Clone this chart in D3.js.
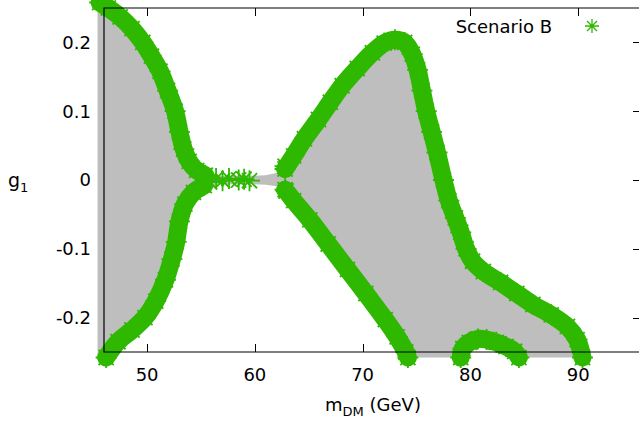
<!DOCTYPE html>
<html><head><meta charset="utf-8">
<script src="https://cdn.jsdelivr.net/npm/d3@7"></script>
<style>body{margin:0;background:#fff} svg{display:block} text{font-family:"DejaVu Sans",sans-serif;fill:#000}</style>
</head><body><svg id="c" width="639" height="426"></svg>
<script>
// ---- data ----
const xTicks = [50, 60, 70, 80, 90];
const xTickLabels = ["50", "60", "70", "80", "90"];
const yTicks = [-0.2, -0.1, 0, 0.1, 0.2];
const yTickLabels = ["-0.2", "-0.1", "0", "0.1", "0.2"];
const seriesName = "Scenario B";

// allowed-region boundary (m_DM [GeV], g1)
const upperLeft = [[45.6,0.258],[46.4,0.25],[47.5,0.237],[48.6,0.22],[49.6,0.2],[50.4,0.18],[51.2,0.158],[51.9,0.13],[52.6,0.1],[53.0,0.07],[53.4,0.045],[53.9,0.027],[54.6,0.014],[55.4,0.007]];
const lowerLeft = [[46.2,-0.258],[47.3,-0.235],[48.6,-0.218],[49.8,-0.2],[50.8,-0.176],[51.7,-0.145],[52.3,-0.115],[52.7,-0.09],[53.0,-0.06],[53.5,-0.035],[54.3,-0.018],[55.3,-0.008]];
const neckTop = [[56.5,0.006],[58.0,0.006],[59.5,0.006],[61.0,0.007],[62.0,0.01]];
const neckBottom = [[56.5,-0.006],[58.0,-0.006],[59.5,-0.006],[61.0,-0.007],[62.0,-0.009]];
const neckStars = [[55.2,0.004],[55.8,-0.003],[56.4,0.002],[57.0,-0.001],[57.6,0.002],[58.5,0.0],[59.0,0.001],[59.5,-0.001],[62.8,0.02],[62.9,-0.016]];
const upperRight = [[62.8,0.016],[63.6,0.035],[64.6,0.06],[65.9,0.088],[67.0,0.113],[68.1,0.137],[69.5,0.162],[70.9,0.185],[72.0,0.199],[73.0,0.204],[73.9,0.2],[74.6,0.183],[75.1,0.16],[75.5,0.13],[75.9,0.1],[76.4,0.07],[76.9,0.04],[77.5,0.0],[78.0,-0.03],[78.6,-0.055],[79.1,-0.076],[79.6,-0.1],[80.2,-0.118],[81.2,-0.133],[82.8,-0.149],[84.3,-0.165],[85.8,-0.181],[87.5,-0.196],[89.0,-0.213],[89.9,-0.232],[90.4,-0.258]];
const lowerRight = [[62.8,-0.014],[63.6,-0.03],[65.1,-0.058],[66.8,-0.093],[68.6,-0.130],[70.3,-0.165],[72.1,-0.203],[73.2,-0.228],[74.0,-0.25],[74.2,-0.258]];
const arc = [[79.1,-0.258],[79.3,-0.245],[79.9,-0.236],[80.7,-0.231],[81.5,-0.232],[82.4,-0.236],[83.3,-0.242],[84.1,-0.249],[84.5,-0.258]];
const scanMin = [45.4, -0.258];

// ---- chart ----
const svg = d3.select("#c");
const x = d3.scaleLinear().domain([46, 95.83]).range([104, 641]);
const y = d3.scaleLinear().domain([-0.25, 0.25]).range([352, 8]);
const GREEN = "#2fb800", GRAY = "#bebebe";
const px = d => x(d[0]), py = d => y(d[1]);

// ticks (behind data)
const tk = svg.append("g").attr("stroke", "#000").attr("stroke-width", 1);
xTicks.forEach(t => {
  const X = Math.round(x(t)) + 0.5;
  tk.append("line").attr("x1", X).attr("x2", X).attr("y1", y(-0.25)).attr("y2", y(-0.25) - 8);
  tk.append("line").attr("x1", X).attr("x2", X).attr("y1", y(0.25)).attr("y2", y(0.25) + 8);
});
yTicks.forEach(t => {
  const Y = Math.round(y(t)) + 0.5;
  tk.append("line").attr("x1", x(46)).attr("x2", x(46) + 8).attr("y1", Y).attr("y2", Y);
  tk.append("line").attr("x1", x(95.83)).attr("x2", x(95.83) - 8).attr("y1", Y).attr("y2", Y);
});

// gray allowed region
const grayPoly = [[scanMin[0], 0.258], ...upperLeft, ...neckTop, ...upperRight,
  ...arc.slice().reverse(), ...lowerRight.slice().reverse(), ...neckBottom.slice().reverse(),
  ...lowerLeft.slice().reverse(), [scanMin[0], scanMin[1]]];
svg.append("path").attr("d", d3.line().x(px).y(py)(grayPoly) + "Z").attr("fill", GRAY);

// green boundary bands
const curves = [upperLeft, lowerLeft, upperRight, lowerRight, arc];
const line = d3.line().x(px).y(py).curve(d3.curveCatmullRom.alpha(0.5));
curves.forEach(c => {
  svg.append("path").attr("d", line(c)).attr("fill", "none").attr("stroke", GREEN)
    .attr("stroke-width", 18).attr("stroke-linecap", "round").attr("stroke-linejoin", "round");
});
function star(r) {
  const k = r * 0.72;
  return `M${-r},0L${r},0M0,${-r}L0,${r}M${-k},${-k}L${k},${k}M${-k},${k}L${k},${-k}`;
}
const allStars = [].concat(...curves, neckStars);
svg.append("g").selectAll("path").data(allStars).join("path")
  .attr("transform", d => `translate(${px(d)},${py(d)})`)
  .attr("d", star(10.5)).attr("stroke", GREEN).attr("stroke-width", 1.8).attr("fill", "none");

// border (front)
const bd = svg.append("g").attr("stroke", "#000").attr("stroke-width", 1.2).attr("fill", "none");
bd.append("path").attr("d", `M${x(95.83)},${y(0.25)}H${x(46)}V${y(-0.25)}H${x(95.83)}`);

// tick labels
const fs = 18;
xTicks.forEach((t, i) => svg.append("text").attr("x", x(t)).attr("y", 381).attr("text-anchor", "middle")
  .attr("font-size", fs).text(xTickLabels[i]));
yTicks.forEach((t, i) => svg.append("text").attr("x", 91).attr("y", y(t)).attr("dy", "0.36em")
  .attr("text-anchor", "end").attr("font-size", fs).text(yTickLabels[i]));

// axis labels
const xl = svg.append("text").attr("x", 373).attr("y", 411).attr("text-anchor", "middle").attr("font-size", fs);
xl.append("tspan").text("m");
xl.append("tspan").attr("font-size", 13).attr("dy", 5).text("DM");
xl.append("tspan").attr("dy", -5).text(" (GeV)");
const yl = svg.append("text").attr("x", 8).attr("y", 187).attr("font-size", fs + 1);
yl.append("tspan").text("g");
yl.append("tspan").attr("font-size", 13).attr("dy", 5).text("1");

// legend
svg.append("text").attr("x", 552).attr("y", 33).attr("text-anchor", "end").attr("font-size", fs).text(seriesName);
svg.append("path").attr("transform", "translate(592,26)").attr("d", star(7))
  .attr("stroke", GREEN).attr("stroke-width", 1.3).attr("fill", "none");
</script></body></html>
